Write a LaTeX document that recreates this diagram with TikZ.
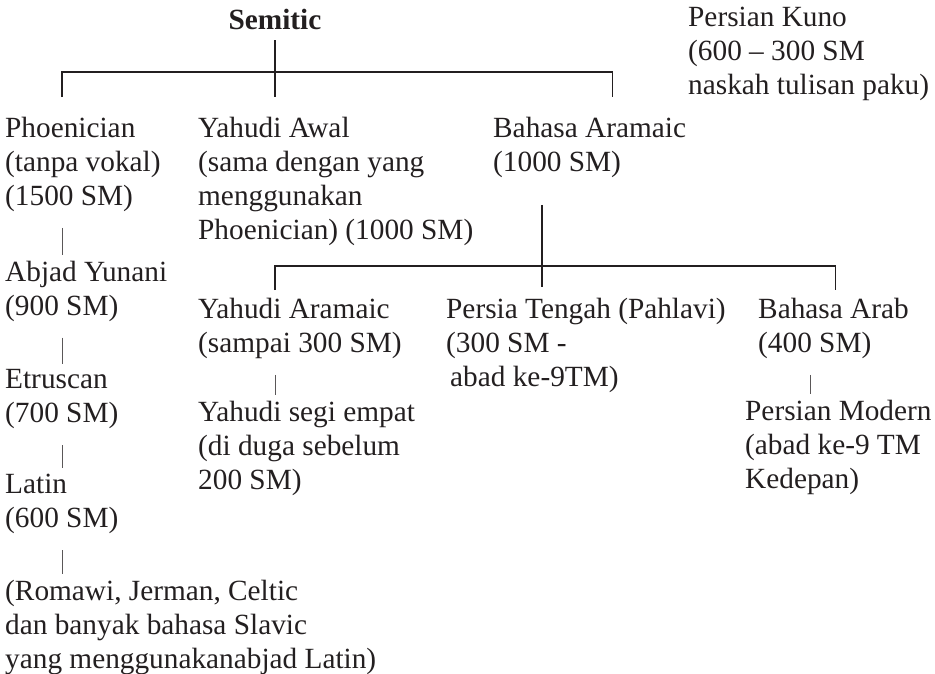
\documentclass[tikz,border=0pt]{standalone}
\usepackage{fontspec}
\setmainfont{Liberation Serif}
\usetikzlibrary{positioning}
\definecolor{ink}{RGB}{35,31,32}
\tikzset{
    lang/.style={align=left, inner sep=0pt, anchor=north west, text=ink},
    link/.style={draw=ink, line width=1.1pt},
    tick/.style={draw=ink!75, line width=0.7pt, shorten <=16pt, shorten >=6pt}
}

\begin{document}
\begin{tikzpicture}[x=1pt, y=-1pt, font=\fontsize{29.3}{34}\selectfont]
    \useasboundingbox (0,0) rectangle (935,673);

    % Root of the tree
    \node[text=ink, inner sep=0pt, anchor=base, font=\fontsize{29.3}{34}\selectfont\bfseries] (semitic) at (275,29) {Semitic};

    % First generation
    \node[lang] (phoen) at (5,117) {Phoenician\\(tanpa vokal)\\(1500 SM)};
    \node[lang] (yawal) at (198,117) {Yahudi Awal\\(sama dengan yang\\menggunakan\\Phoenician) (1000 SM)};
    \node[lang] (aram) at (493,117) {Bahasa Aramaic\\(1000 SM)};
    \node[lang] (kuno) at (688,7) {Persian Kuno\\(600 -- 300 SM\\naskah tulisan paku)};

    % Phoenician line down to Latin
    \node[lang, below=48.8pt of phoen.south west, anchor=north west] (abjad) {Abjad Yunani\\(900 SM)};
    \node[lang, below=47.8pt of abjad.south west, anchor=north west] (etrus) {Etruscan\\(700 SM)};
    \node[lang, below=44.8pt of etrus.south west, anchor=north west] (latin) {Latin\\(600 SM)};
    \node[lang, below=45.3pt of latin.south west, anchor=north west] (romawi) {(Romawi, Jerman, Celtic\\dan banyak bahasa Slavic\\yang menggunakanabjad Latin)};

    % Aramaic branches
    \node[lang] (yaram) at (198,298) {Yahudi Aramaic\\(sampai 300 SM)};
    \node[lang] (persia) at (446,298) {Persia Tengah (Pahlavi)\\(300 SM -\\\hspace*{4pt}abad ke-9TM)};
    \node[lang] (arab) at (758,298) {Bahasa Arab\\(400 SM)};
    \node[lang, below=41.6pt of yaram.south west, anchor=north west] (segi) {Yahudi segi empat\\(di duga sebelum\\200 SM)};
    \node[lang] (pmod) at (745,400) {Persian Modern\\(abad ke-9 TM\\Kedepan)};

    % Axes of the connectors
    \coordinate (fork1) at (275,72);
    \coordinate (fork2) at (542,266);
    \coordinate (lcol) at (62,0);
    \coordinate (mcol) at (275,0);
    \coordinate (rcol) at (810,0);

    % Semitic fork
    \draw[link] ([yshift=-11pt]semitic.base) -- ([yshift=20pt]yawal.north west -| fork1);
    \draw[link] ([yshift=20pt]phoen.north west -| lcol) |- (fork1) -| ([xshift=23pt, yshift=20pt]aram.north);

    % Aramaic fork
    \draw[link] ([yshift=-27pt]aram.south west -| fork2) -- ([yshift=11pt]persia.north west -| fork2);
    \draw[link] ([yshift=8pt]yaram.north west -| mcol) |- (fork2) -| ([xshift=2pt, yshift=8pt]arab.north);

    % Short bars between generations
    \draw[tick] (phoen.south west -| lcol) -- (abjad.north west -| lcol);
    \draw[tick] (abjad.south west -| lcol) -- (etrus.north west -| lcol);
    \draw[tick] (etrus.south west -| lcol) -- (latin.north west -| lcol);
    \draw[tick] (latin.south west -| lcol) -- (romawi.north west -| lcol);
    \draw[tick] (yaram.south west -| mcol) -- (segi.north west -| mcol);
    \draw[tick] (arab.south west -| rcol) -- (pmod.north west -| rcol);
\end{tikzpicture}
\end{document}
